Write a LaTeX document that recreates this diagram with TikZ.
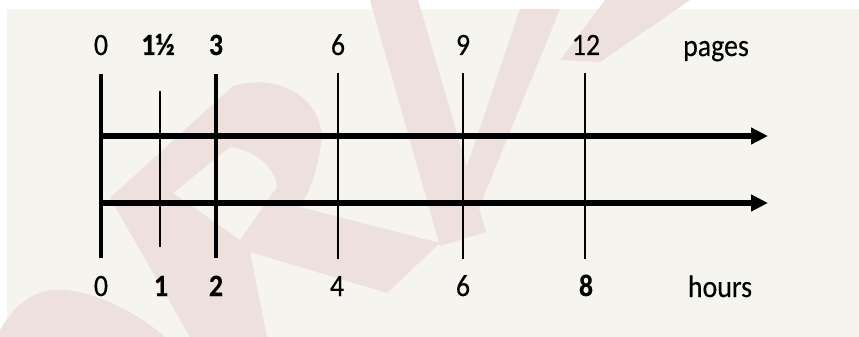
\documentclass[tikz,border=0pt]{standalone}
\usepackage{fontspec}
\setmainfont{Carlito}
\newfontfamily\labfont{Carlito}[FakeStretch=0.9, FakeBold=0.35]
\usetikzlibrary{arrows.meta}
\definecolor{bg}{HTML}{F5F4EF}
\definecolor{wm}{HTML}{EEE0DC}
\begin{document}
\begin{tikzpicture}[x=1pt,y=-1pt,
  thickline/.style={line width=3.6pt},
  thinline/.style={line width=1.4pt},
  axisline/.style={line width=5.5pt,-{Triangle[length=17pt,width=16pt]}},
  lab/.style={font=\labfont\fontsize{31}{33}\selectfont, anchor=base, inner sep=0pt},
  blab/.style={font=\labfont\bfseries\fontsize{31}{33}\selectfont, anchor=base, inner sep=0pt},
  wmark/.style={fill=wm, draw=none}]
\useasboundingbox (0,0) rectangle (859,337);
\fill[white] (0,0) rectangle (859,337);
\fill[bg] (7,9) rectangle (859,337);
% watermark (faint)
\fill[wmark] (0,330) .. controls (20,296) and (42,288) .. (65,290) .. controls (100,293) and (140,315) .. (165,337) -- (0,337) -- cycle;
\fill[wmark, even odd rule] (110,198) -- (233,86) .. controls (290,70) and (330,110) .. (320,150) .. controls (315,180) and (305,200) .. (300,207) -- (440,243) -- (387,293) -- (250,252) -- (267,337) -- (190,337) -- cycle
  (173,193) -- (230,147) .. controls (252,150) and (275,165) .. (277,187) -- (240,240) -- cycle;
\fill[wmark] (370,0) -- (418,0) -- (486,232) -- (440,246) -- cycle;
\fill[wmark] (440,246) -- (520,9) -- (560,9) -- (470,230) -- cycle;
\fill[wmark] (560,60) -- (605,0) -- (690,0) -- (600,62) -- cycle;
% tick lines
\coordinate (p0t) at (101,74);  \coordinate (p0b) at (101,258);
\coordinate (p1t) at (160,91);  \coordinate (p1b) at (160,247);
\coordinate (p3t) at (216,74);  \coordinate (p3b) at (216,258);
\coordinate (p6t) at (338,73);  \coordinate (p6b) at (338,259);
\coordinate (p9t) at (463,73);  \coordinate (p9b) at (463,259);
\coordinate (p12t) at (585,73); \coordinate (p12b) at (585,259);
\draw[thickline] (p0t) -- (p0b);
\draw[thinline] (p1t) -- (p1b);
\draw[thickline] (p3t) -- (p3b);
\draw[thinline] (p6t) -- (p6b);
\draw[thinline] (p9t) -- (p9b);
\draw[thinline] (p12t) -- (p12b);
% axes
\coordinate (ua) at (101,136); \coordinate (ub) at (768,136);
\coordinate (la) at (101,203); \coordinate (lb) at (768,203);
\draw[axisline] (ua) -- (ub);
\draw[axisline] (la) -- (lb);
% top labels
\node[lab]  (tp0)  at (101,55) {0};
\node[blab] (tp1)  at (158,55) {1½};
\node[blab] (tp3)  at (216,55) {3};
\node[lab]  (tp6)  at (338,55) {6};
\node[lab]  (tp9)  at (463,55) {9};
\node[lab]  (tp12) at (586,55) {12};
\node[lab]  (tpg)  at (716,56) {pages};
% bottom labels
\node[lab]  (bt0) at (101,296) {0};
\node[blab] (bt1) at (161,296) {1};
\node[blab] (bt2) at (216,296) {2};
\node[lab]  (bt4) at (337,296) {4};
\node[lab]  (bt6) at (463,296) {6};
\node[blab] (bt8) at (586,296) {8};
\node[lab]  (bth) at (720,297) {hours};
\end{tikzpicture}
\end{document}
